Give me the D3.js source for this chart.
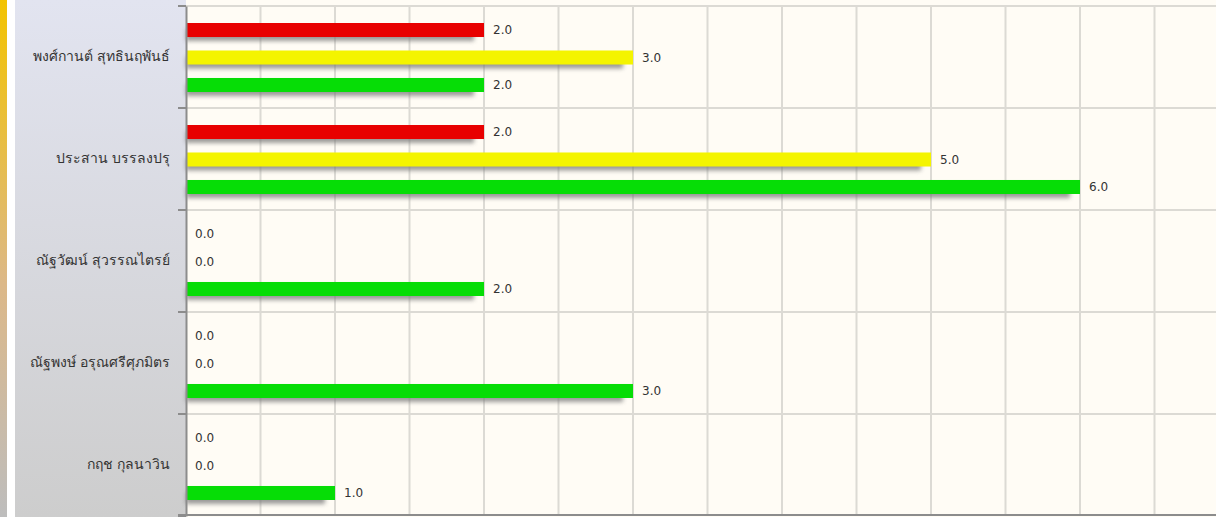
<!DOCTYPE html>
<html>
<head>
<meta charset="utf-8">
<script src="https://cdn.jsdelivr.net/npm/d3@7"></script>
<style>
  html, body { margin: 0; padding: 0; background: #fff; overflow: hidden; }
  text { font-family: Tahoma, "DejaVu Sans", "Noto Sans", sans-serif; }
</style>
</head>
<body>
<div id="chart"></div>
<script>
// data
var names = ["พงศ์กานต์ สุทธินฤพันธ์", "ประสาน บรรลงปรุ", "ณัฐวัฒน์ สุวรรณไตรย์", "ณัฐพงษ์ อรุณศรีศุภมิตร", "กฤช กุลนาวิน"];
var seriesKeys = ["red", "yellow", "green"];
var redValues = [2, 2, 0, 0, 0];
var yellowValues = [3, 5, 0, 0, 0];
var greenValues = [2, 6, 2, 3, 1];
var seriesColors = ["#e80000", "#f4f400", "#06dd06"];
var xTicks = d3.range(0, 7.5, 0.5);

var W = 1216, H = 517;
var plotLeft = 186, plotTop = 6, plotBottom = 516;

var svg = d3.select("#chart").append("svg")
    .attr("width", W)
    .attr("height", H);

var defs = svg.append("defs");
var stripe = defs.append("linearGradient").attr("id", "stripe")
    .attr("x1", 0).attr("y1", 0).attr("x2", 0).attr("y2", 1);
stripe.append("stop").attr("offset", "0%").attr("stop-color", "#f3c300");
stripe.append("stop").attr("offset", "55%").attr("stop-color", "#dcb888");
stripe.append("stop").attr("offset", "100%").attr("stop-color", "#bdbdbd");

var panel = defs.append("linearGradient").attr("id", "panel")
    .attr("x1", 0).attr("y1", 0).attr("x2", 0).attr("y2", 1);
panel.append("stop").attr("offset", "0%").attr("stop-color", "#e2e4f0");
panel.append("stop").attr("offset", "100%").attr("stop-color", "#cdcdcd");

defs.append("filter").attr("id", "blur")
    .attr("x", "-10%").attr("y", "-50%").attr("width", "120%").attr("height", "200%")
  .append("feGaussianBlur").attr("stdDeviation", 2);

// side decoration
svg.append("rect").attr("x", 0).attr("y", 0).attr("width", 7).attr("height", H)
    .attr("fill", "url(#stripe)");
svg.append("rect").attr("x", 15).attr("y", 0).attr("width", plotLeft - 15).attr("height", H)
    .attr("fill", "url(#panel)");
svg.append("rect").attr("x", plotLeft).attr("y", 0).attr("width", W - plotLeft).attr("height", H)
    .attr("fill", "#fffcf5");

// scales
var x = d3.scaleLinear().domain([0, 7]).range([plotLeft, plotLeft + 7 * 149]);
var y = d3.scaleBand().domain(names).range([plotTop, plotBottom]);
var ySub = d3.scaleBand().domain(seriesKeys).range([17, 86]).paddingInner(0.49).paddingOuter(0);

// grid
svg.append("g").selectAll("line")
    .data(xTicks.filter(function(d) { return d > 0; }))
    .enter().append("line")
    .attr("x1", function(d) { return x(d); })
    .attr("x2", function(d) { return x(d); })
    .attr("y1", plotTop)
    .attr("y2", plotBottom)
    .attr("stroke", "#dcdad4")
    .attr("stroke-width", 2);

svg.append("g").selectAll("line")
    .data(names.slice(1))
    .enter().append("line")
    .attr("x1", plotLeft).attr("x2", W)
    .attr("y1", function(d) { return y(d); })
    .attr("y2", function(d) { return y(d); })
    .attr("stroke", "#dcdad4")
    .attr("stroke-width", 2);

svg.append("line")
    .attr("x1", plotLeft).attr("x2", W).attr("y1", plotTop).attr("y2", plotTop)
    .attr("stroke", "#dcdad4").attr("stroke-width", 2);

// bars
var rows = [];
names.forEach(function(n, i) {
  var vals = [redValues[i], yellowValues[i], greenValues[i]];
  seriesKeys.forEach(function(k, j) {
    rows.push({name: n, key: k, value: vals[j], color: seriesColors[j]});
  });
});

var g = svg.append("g");
var withBar = rows.filter(function(d) { return d.value > 0; });

g.selectAll(".shadow")
    .data(withBar)
    .enter().append("rect")
    .attr("class", "shadow")
    .attr("x", x(0))
    .attr("y", function(d) { return y(d.name) + ySub(d.key) + 6; })
    .attr("width", function(d) { return x(d.value) - x(0) - 10; })
    .attr("height", ySub.bandwidth() - 2)
    .attr("fill", "#7a7a7a")
    .attr("opacity", 0.75)
    .attr("filter", "url(#blur)");

g.selectAll(".bar")
    .data(withBar)
    .enter().append("rect")
    .attr("class", "bar")
    .attr("x", x(0))
    .attr("y", function(d) { return y(d.name) + ySub(d.key); })
    .attr("width", function(d) { return x(d.value) - x(0); })
    .attr("height", ySub.bandwidth())
    .attr("fill", function(d) { return d.color; });

g.selectAll(".val")
    .data(rows)
    .enter().append("text")
    .attr("class", "val")
    .attr("x", function(d) { return x(d.value) + 9; })
    .attr("y", function(d) { return y(d.name) + ySub(d.key) + ySub.bandwidth() / 2; })
    .attr("dy", "0.35em")
    .attr("font-size", 12)
    .attr("fill", "#333")
    .text(function(d) { return d.value.toFixed(1); });

// left axis
var yAxis = svg.append("g")
    .attr("transform", "translate(" + plotLeft + ",0)")
    .call(d3.axisLeft(y).tickSize(0).tickPadding(16));
yAxis.select(".domain").attr("stroke", "#8c8c8c").attr("stroke-width", 2);
yAxis.selectAll("text").attr("font-size", 14).attr("fill", "#333");

svg.append("g").selectAll("line")
    .data(names.concat(["end"]))
    .enter().append("line")
    .attr("x1", plotLeft - 8).attr("x2", plotLeft)
    .attr("y1", function(d, i) { return i < names.length ? y(d) : plotBottom; })
    .attr("y2", function(d, i) { return i < names.length ? y(d) : plotBottom; })
    .attr("stroke", "#8c8c8c")
    .attr("stroke-width", 2);

// bottom axis line
svg.append("line")
    .attr("x1", plotLeft - 8).attr("x2", W).attr("y1", plotBottom - 1).attr("y2", plotBottom - 1)
    .attr("stroke", "#8c8c8c").attr("stroke-width", 2);
</script>
</body>
</html>
